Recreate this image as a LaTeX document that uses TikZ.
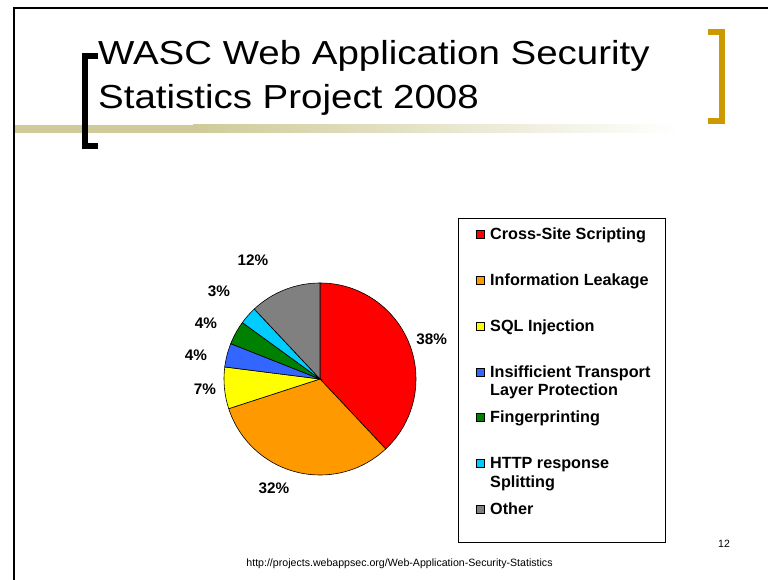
\documentclass[tikz,border=0pt]{standalone}
\usepackage{fontspec}
\setmainfont{Liberation Sans}
\usepackage{graphicx}
\usepackage{tikz}

\definecolor{xssred}{RGB}{255,0,0}
\definecolor{leakorange}{RGB}{255,153,0}
\definecolor{sqlyellow}{RGB}{255,255,0}
\definecolor{tlsblue}{RGB}{51,102,255}
\definecolor{fpgreen}{RGB}{0,128,0}
\definecolor{httpcyan}{RGB}{0,204,255}
\definecolor{othergray}{RGB}{128,128,128}
\definecolor{olivebar}{RGB}{206,203,152}
\definecolor{goldbracket}{RGB}{204,153,0}

\newcommand{\titlefont}{\fontsize{33.3}{40}\selectfont}
\newcommand{\widetitle}[1]{\scalebox{1.155}[1]{#1}}

\begin{document}
\begin{tikzpicture}[x=1pt,y=1pt,
    slice/.style={draw=black,line width=0.6pt},
    swatch/.style={draw=black,line width=0.6pt,minimum size=8pt,inner sep=0pt},
    legtext/.style={anchor=base west,inner sep=0pt,font=\bfseries\fontsize{16.2}{18}\selectfont},
    pct/.style={inner sep=0pt,font=\bfseries\fontsize{15.3}{18}\selectfont}]
	\useasboundingbox[fill=white] (0,0) rectangle (768,580);
	% slide frame, bar and brackets
	\fill[olivebar] (14,447) rectangle (193,455);
	\shade[left color=olivebar,right color=white] (193,447.5) rectangle (680,455);
	\draw[line width=1.4pt] (14,0) -- (14,572) -- (768,572);
	\draw[line width=5.5pt,line join=miter] (98,524) -- (85,524) -- (85,434) -- (98,434);
	\draw[goldbracket,line width=5.5pt,line join=miter] (708.3,548) -- (722,548) -- (722,459) -- (708.3,459);
	\node[anchor=base west,inner sep=0pt,font=\titlefont] (title1) at (98,515) {\widetitle{WASC Web Application Security}};
	\node[anchor=base west,inner sep=0pt,font=\titlefont] (title2) at (98,471) {\widetitle{Statistics Project 2008}};
	% pie
	\begin{scope}[shift={(320,201)}]
	\filldraw[slice,fill=xssred]     (0,0) -- (90:96)     arc[start angle=90,end angle=-46.8,radius=96] -- cycle;
	\filldraw[slice,fill=leakorange] (0,0) -- (-46.8:96)  arc[start angle=-46.8,end angle=-162,radius=96] -- cycle;
	\filldraw[slice,fill=sqlyellow]  (0,0) -- (-162:96)   arc[start angle=-162,end angle=-187.2,radius=96] -- cycle;
	\filldraw[slice,fill=tlsblue]    (0,0) -- (-187.2:96) arc[start angle=-187.2,end angle=-201.6,radius=96] -- cycle;
	\filldraw[slice,fill=fpgreen]    (0,0) -- (-201.6:96) arc[start angle=-201.6,end angle=-216,radius=96] -- cycle;
	\filldraw[slice,fill=httpcyan]   (0,0) -- (-216:96)   arc[start angle=-216,end angle=-226.8,radius=96] -- cycle;
	\filldraw[slice,fill=othergray]  (0,0) -- (-226.8:96) arc[start angle=-226.8,end angle=-270,radius=96] -- cycle;
	\end{scope}
	\node[pct] (p38) at (431.7,241) {38\%};
	\node[pct] (p32) at (274,92)    {32\%};
	\node[pct] (p7)  at (205,191)   {7\%};
	\node[pct] (p4a) at (196,225)   {4\%};
	\node[pct] (p4b) at (206,257)   {4\%};
	\node[pct] (p3)  at (219,289)   {3\%};
	\node[pct] (p12) at (253,320)   {12\%};
	% legend
	\draw[line width=0.8pt] (458,38) rectangle (665,362);
	\node[swatch,fill=xssred]     (sw1) at (480.5,346) {};
	\node[swatch,fill=leakorange] (sw2) at (480.5,300) {};
	\node[swatch,fill=sqlyellow]  (sw3) at (480.5,254) {};
	\node[swatch,fill=tlsblue]    (sw4) at (480.5,208) {};
	\node[swatch,fill=fpgreen]    (sw5) at (480.5,163) {};
	\node[swatch,fill=httpcyan]   (sw6) at (480.5,117) {};
	\node[swatch,fill=othergray]  (sw7) at (480.5,71)  {};
	\node[legtext] (lg1)  at (490,340.5) {Cross-Site Scripting};
	\node[legtext] (lg2)  at (490,294.5) {Information Leakage};
	\node[legtext] (lg3)  at (490,248.5) {SQL Injection};
	\node[legtext] (lg4)  at (490,202.5) {Insifficient Transport};
	\node[legtext] (lg4b) at (490,184)   {Layer Protection};
	\node[legtext] (lg5)  at (490,157.5) {Fingerprinting};
	\node[legtext] (lg6)  at (490,111.5) {HTTP response};
	\node[legtext] (lg6b) at (490,92)    {Splitting};
	\node[legtext] (lg7)  at (490,65.5)  {Other};
	% footer
	\node[inner sep=0pt,font=\fontsize{10.6}{12}\selectfont] (source) at (399.5,16.5) {http://projects.webappsec.org/Web-Application-Security-Statistics};
	\node[inner sep=0pt,font=\fontsize{10.5}{12}\selectfont] (pageno) at (724,36) {12};
\end{tikzpicture}
\end{document}
